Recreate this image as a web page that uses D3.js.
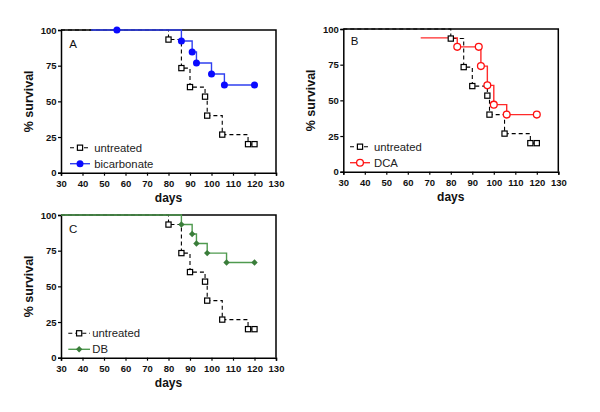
<!DOCTYPE html>
<html><head><meta charset="utf-8">
<script src="https://cdn.jsdelivr.net/npm/d3@7/dist/d3.min.js"></script>
<style>
body{margin:0;background:#fff;}
svg{display:block;font-family:"Liberation Sans",Arial,sans-serif;}
</style></head>
<body>
<svg id="c" width="600" height="412"></svg>
<script>
// ---- data ----
const xTicks = [30,40,50,60,70,80,90,100,110,120,130];
const yTicks = [0,25,50,75,100];

const untreatedDays = [30,80,86,90,97,98,105,117,120];
const untreatedSurv = [100,93.3,73.3,60,53.3,40,26.7,20,20];

const bicarbDays = [44,56,86,91,93,100,106,120];
const bicarbSurv = [100,100,92.3,84.6,76.9,69.2,61.5,61.5];

const dcaDays = [66,83,93,94,97,100,106,120];
const dcaSurv = [93.8,87.5,87.5,74,60.5,47,40,40];

const dbDays = [30,86,91,93,98,107,120];
const dbSurv = [100,93.3,86.7,80,73.3,66.7,66.7];

const panelLetters = ["A","B","C"];
const treatedNames = ["bicarbonate","DCA","DB"];

// ---- drawing ----
const svg = d3.select("#c");
const W = 215, H = 142.7;

const panels = [
  {x:61, y:30, letter:panelLetters[0], name:treatedNames[0], days:bicarbDays, surv:bicarbSurv,
   color:"#0a0aff", line:"#3040f0", marker:"dot", leg:{x0:9,x1:29,tx:33.3,y1:117.7,y2:133.7}, let:{x:8.3,y:17.5}},
  {x:343.3, y:29, letter:panelLetters[1], name:treatedNames[1], days:dcaDays, surv:dcaSurv,
   color:"#ff1010", line:"#ff2a2a", marker:"ring", leg:{x0:6.7,x1:26.7,tx:30.7,y1:117.7,y2:133.7}, let:{x:7.4,y:15.5}},
  {x:61, y:215, letter:panelLetters[2], name:treatedNames[2], days:dbDays, surv:dbSurv,
   color:"#3a7d3a", line:"#4f9a4f", marker:"diamond", leg:{x0:7.3,x1:29,tx:31.3,y1:118.3,y2:134.3}, let:{x:8,y:17.7}}
];

function drawMarker(g, type, color, cx, cy){
  if(type==="square"){
    g.append("rect").attr("x",cx-2.6).attr("y",cy-2.6).attr("width",5.2).attr("height",5.2)
      .attr("fill","#fff").attr("stroke","#000").attr("stroke-width",1.2);
  } else if(type==="dot"){
    g.append("circle").attr("cx",cx).attr("cy",cy).attr("r",3.5).attr("fill",color);
  } else if(type==="ring"){
    g.append("circle").attr("cx",cx).attr("cy",cy).attr("r",3.4).attr("fill","#fff")
      .attr("stroke",color).attr("stroke-width",1.3);
  } else if(type==="diamond"){
    g.append("path").attr("d",`M${cx},${cy-3.2}L${cx+3.2},${cy}L${cx},${cy+3.2}L${cx-3.2},${cy}Z`)
      .attr("fill",color);
  }
}

panels.forEach(p=>{
  const g = svg.append("g").attr("transform",`translate(${p.x},${p.y})`);
  const x = d3.scaleLinear().domain([30,130]).range([0,W]);
  const y = d3.scaleLinear().domain([0,100]).range([H,0]);

  // frame top/right
  g.append("path").attr("d",`M0,0H${W}V${H}`).attr("fill","none").attr("stroke","#000").attr("stroke-width",1.5);

  const xa = g.append("g").attr("transform",`translate(0,${H})`)
    .call(d3.axisBottom(x).tickValues(xTicks).tickSize(3).tickPadding(4.5).tickFormat(d3.format("d")));
  const ya = g.append("g")
    .call(d3.axisLeft(y).tickValues(yTicks).tickSize(3).tickPadding(1.5).tickFormat(d3.format("d")));
  [xa,ya].forEach(a=>{
    a.select(".domain").attr("stroke","#000").attr("stroke-width",1.5);
    a.selectAll(".tick line").attr("stroke","#000").attr("stroke-width",1.2);
    a.selectAll("text").attr("font-size",9.5).attr("font-weight","bold").attr("fill","#111")
      .attr("font-family","'Liberation Sans',Arial,sans-serif");
  });

  const line = d3.line().x(d=>x(d[0])).y(d=>y(d[1])).curve(d3.curveStepAfter);

  // untreated
  const uPts = untreatedDays.map((d,i)=>[d,untreatedSurv[i]]);
  g.append("path").attr("d",line(uPts)).attr("fill","none").attr("stroke","#000")
    .attr("stroke-width",1.1).attr("stroke-dasharray","4,3");
  // treated line
  const tPts = p.days.map((d,i)=>[d,p.surv[i]]);
  g.append("path").attr("d",line(tPts)).attr("fill","none").attr("stroke",p.line).attr("stroke-width",1.4);

  uPts.slice(1).forEach(d=>drawMarker(g,"square","#000",x(d[0]),y(d[1])));
  tPts.slice(1).forEach(d=>drawMarker(g,p.marker,p.color,x(d[0]),y(d[1])));

  // letter
  g.append("text").attr("x",p.let.x).attr("y",p.let.y).attr("font-size",11.5).attr("fill","#111").text(p.letter);

  // legend
  const L = p.leg, mx = (L.x0+L.x1)/2;
  g.append("line").attr("x1",L.x0).attr("x2",L.x1).attr("y1",L.y1).attr("y2",L.y1)
    .attr("stroke","#000").attr("stroke-width",1.1).attr("stroke-dasharray","4,3");
  drawMarker(g,"square","#000",mx,L.y1);
  g.append("text").attr("x",L.tx).attr("y",L.y1).attr("dy","0.36em").attr("font-size",11.3).attr("fill","#222").text("untreated");
  g.append("line").attr("x1",L.x0).attr("x2",L.x1).attr("y1",L.y2).attr("y2",L.y2)
    .attr("stroke",p.line).attr("stroke-width",1.4);
  drawMarker(g,p.marker,p.color,mx,L.y2);
  g.append("text").attr("x",L.tx).attr("y",L.y2).attr("dy","0.36em").attr("font-size",11.3).attr("fill","#222").text(p.name);

  // axis titles
  g.append("text").attr("x",W/2).attr("y",H+29).attr("text-anchor","middle")
    .attr("font-size",12).attr("font-weight","bold").attr("fill","#111").text("days");
  g.append("text").attr("transform",`translate(${-28},${H/2}) rotate(-90)`).attr("text-anchor","middle")
    .attr("font-size",12.5).attr("font-weight","bold").attr("fill","#111").text("% survival");
});
</script>
</body></html>
